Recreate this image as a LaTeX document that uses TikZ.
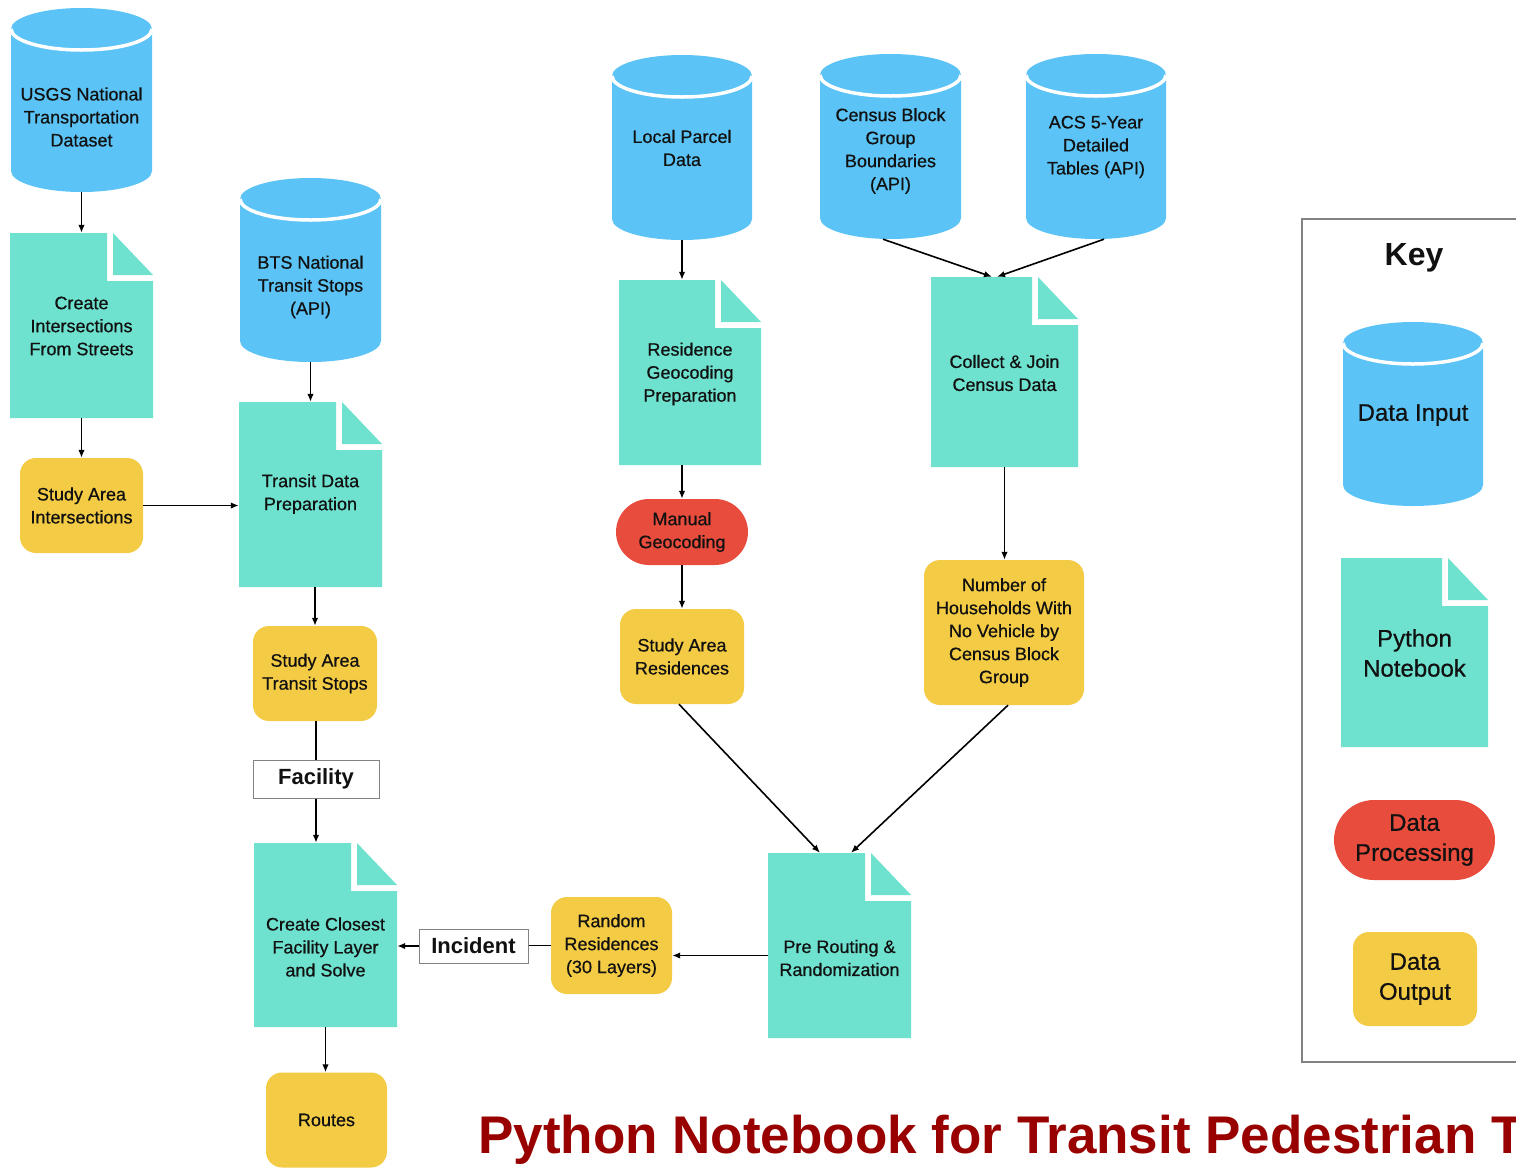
\documentclass[tikz,border=0pt]{standalone}
\usepackage{fontspec}
\setmainfont{Liberation Sans}
\newfontfamily\medfont{Liberation Sans}[FakeBold=0.6]
\usetikzlibrary{arrows.meta,backgrounds}
\definecolor{dbblue}{RGB}{91,195,245}
\definecolor{nbteal}{RGB}{110,226,207}
\definecolor{procred}{RGB}{232,76,61}
\definecolor{outyellow}{RGB}{244,203,69}
\definecolor{ink}{RGB}{17,17,17}
\definecolor{titlered}{RGB}{153,0,0}
\definecolor{edgegray}{RGB}{130,130,130}
\tikzset{
  txt/.style={align=center, font=\medfont\fontsize{18}{23}\selectfont, text=ink, inner sep=0pt},
  keytxt/.style={align=center, font=\medfont\fontsize{24}{30}\selectfont, text=ink, inner sep=0pt},
  shapebox/.style={rectangle, inner sep=0pt, draw=none},
  outbox/.style={txt, fill=outyellow, rounded corners=16pt},
  procbox/.style={txt, fill=procred},
  labelbox/.style={draw=edgegray, line width=1pt, fill=white, inner sep=0pt, font=\fontsize{22}{26}\selectfont\bfseries, text=ink},
  arr/.style={line width=1.6pt, -{Latex[length=8pt,width=6.5pt]}},
  plain/.style={line width=1.6pt},
}
% cylinder: name, x0, y0, x1, y1, text y, text, text style
\newcommand\dbcyl[8]{%
  \node[shapebox, minimum width={#4-#2}, minimum height={#5-#3}] (#1) at ({(#2+#4)/2},{-(#3+#5)/2}) {};
  \begin{scope}[on background layer]
  \fill[dbblue] (#2,{-#3-21}) -- (#2,{-#5+21}) arc[start angle=180,end angle=360,x radius={(#4-#2)/2},y radius=21]
     -- (#4,{-#3-21}) arc[start angle=0,end angle=180,x radius={(#4-#2)/2},y radius=21] -- cycle;
  \draw[white,line width=3.5pt] (#2,{-#3-21}) arc[start angle=180,end angle=360,x radius={(#4-#2)/2},y radius=21];
  \end{scope}
  \node[#8] (#1-t) at ({(#2+#4)/2},-#6) {#7};
}
% notebook: name, x0, y0, x1, y1, text y, text, text style
\newcommand\nbook[8]{%
  \node[shapebox, minimum width={#4-#2}, minimum height={#5-#3}] (#1) at ({(#2+#4)/2},{-(#3+#5)/2}) {};
  \begin{scope}[on background layer]
  \fill[nbteal] (#2,-#3) -- ({#4-46},-#3) -- ({#4-46},{-#3-48}) -- (#4,{-#3-48}) -- (#4,-#5) -- (#2,-#5) -- cycle;
  \fill[nbteal] ({#4-40},-#3) -- ({#4-40},{-#3-42}) -- (#4,{-#3-42}) -- cycle;
  \end{scope}
  \node[#8] (#1-t) at ({(#2+#4)/2},-#6) {#7};
}
\begin{document}
\begin{tikzpicture}[x=1pt,y=1pt]
\useasboundingbox (0,0) rectangle (1516,-1168);
\clip (0,0) rectangle (1516,-1168);
\begin{scope}[on background layer]
\fill[white] (0,0) rectangle (1516,-1168);
\end{scope}

% ---------- data inputs ----------
\dbcyl{usgs}{11}{8}{152}{192}{117}{USGS National\\Transportation\\Dataset}{txt}
\dbcyl{bts}{240}{178}{381}{362}{287}{BTS National\\Transit Stops\\(API)}{txt}
\dbcyl{lp}{612}{55}{752}{240}{148}{Local Parcel\\Data}{txt}
\dbcyl{cb}{820}{54}{961}{239}{151}{Census Block\\Group\\Boundaries\\(API)}{txt}
\dbcyl{acs}{1026}{54}{1166}{239}{147}{ACS 5-Year\\Detailed\\Tables (API)}{txt}

% ---------- notebooks ----------
\nbook{ci}{10}{233}{153}{418}{326}{Create\\Intersections\\From Streets}{txt}
\nbook{tdp}{239}{402}{382}{587}{494}{Transit Data\\Preparation}{txt}
\nbook{rgp}{619}{280}{761}{465}{374}{Residence\\Geocoding\\Preparation}{txt}
\nbook{cj}{931}{277}{1078}{467}{373}{Collect \& Join\\Census Data}{txt}
\nbook{cf}{254}{843}{397}{1027}{947}{Create Closest\\Facility Layer\\and Solve}{txt}
\nbook{pr}{768}{853}{911}{1038}{958}{Pre Routing \&\\Randomization}{txt}

% ---------- processing ----------
\node[procbox, rounded corners=33pt, minimum width=132pt, minimum height=66pt] (mg) at (682,-532) {Manual\\Geocoding};

% ---------- outputs ----------
\node[outbox, minimum width=123pt, minimum height=95pt] (sai) at (81.5,-505.5) {Study Area\\Intersections};
\node[outbox, minimum width=124pt, minimum height=95pt] (sats) at (315,-673.5) {Study Area\\Transit Stops};
\node[outbox, minimum width=124pt, minimum height=95pt] (sar) at (682,-656.5) {Study Area\\Residences};
\node[outbox, minimum width=160pt, minimum height=145pt] (hh) at (1004,-632.5) {Number of\\Households With\\No Vehicle by\\Census Block\\Group};
\node[outbox, minimum width=121pt, minimum height=97pt] (rr) at (611.5,-945.5) {Random\\Residences\\(30 Layers)};
\node[outbox, minimum width=121pt, minimum height=95pt] (routes) at (326.5,-1120) {Routes};

% ---------- labels on connectors ----------
\node[labelbox, minimum width=126pt, minimum height=38pt] (fac) at (316,-779) {Facility};
\node[labelbox, minimum width=109pt, minimum height=34pt] (inc) at (473.5,-946) {Incident};

% ---------- connectors ----------
\draw[arr] (usgs.south) -- (ci.north);
\draw[arr] (ci.south) -- (sai.north);
\draw[arr] (sai.east) -- (sai.east -| tdp.west);
\draw[arr] (bts.south) -- (tdp.north);
\draw[arr] (tdp.south -| sats.north) -- (sats.north);
\draw[plain] (sats.south -| fac.north) -- (fac.north);
\draw[arr] (fac.south) -- (fac.south |- cf.north);
\draw[arr] (cf.south) -- (cf.south |- routes.north);
\draw[plain] (rr.west) -- (rr.west -| inc.east);
\draw[arr] (inc.west) -- (inc.west -| cf.east);
\draw[arr] ([yshift=-10pt]pr.west) -- ([yshift=-10pt]pr.west -| rr.east);
\draw[arr] (lp.south) -- (lp.south |- rgp.north);
\draw[arr] (mg.north |- rgp.south) -- (mg.north);
\draw[arr] (mg.south) -- (sar.north);
\draw[arr] ([xshift=-3pt]sar.south) -- ([xshift=-19.5pt]pr.north);
\draw[arr] ([xshift=4pt]hh.south) -- ([xshift=11.5pt]pr.north);
\draw[arr] ([xshift=-7.5pt]cb.south) -- ([xshift=-12.5pt]cj.north);
\draw[arr] ([xshift=8pt]acs.south) -- ([xshift=-7.5pt]cj.north);
\draw[arr] (cj.south) -- (cj.south |- hh.north);

% ---------- key ----------
\node[draw=edgegray, line width=1.3pt, fill=none, minimum width=240pt, minimum height=843pt, inner sep=0pt] (keybox) at (1422,-640.5) {};
\node[font=\fontsize{32}{36}\selectfont\bfseries, text=ink, inner sep=0pt] (keytitle) at (1414,-258) {Key};
\dbcyl{kin}{1343}{322}{1483}{506}{415}{Data Input}{keytxt}
\nbook{knb}{1341}{558}{1488}{747}{653}{Python\\Notebook}{keytxt}
\node[keytxt, fill=procred, rounded corners=40pt, minimum width=161pt, minimum height=80pt] (kproc) at (1414.5,-840) {Data\\Processing};
\node[keytxt, fill=outyellow, rounded corners=16pt, minimum width=124pt, minimum height=94pt] (kout) at (1415,-979) {Data\\Output};

% ---------- title ----------
\node[anchor=base west, inner sep=0pt, font=\fontsize{53}{60}\selectfont\bfseries, text=titlered] (title) at (478,-1153) {Python Notebook for Transit Pedestrian T};
\end{tikzpicture}
\end{document}
